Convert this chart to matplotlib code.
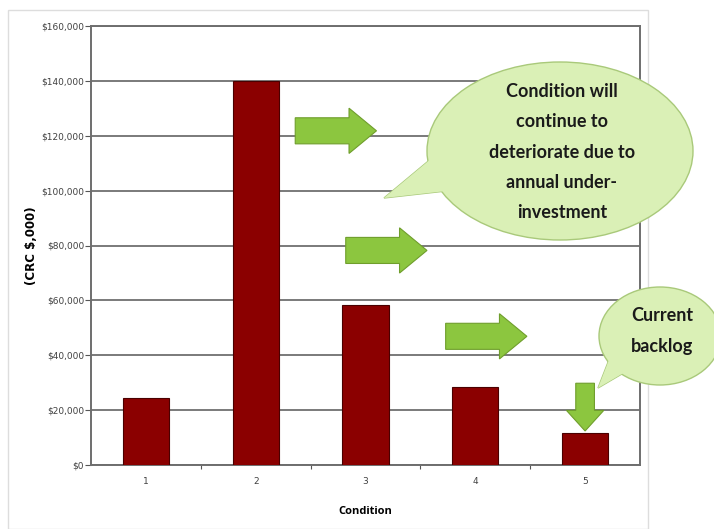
import matplotlib.pyplot as plt
import numpy as np
from matplotlib.patches import Ellipse, Polygon, FancyArrow, Rectangle
from matplotlib.ticker import FuncFormatter

conditions = ["1", "2", "3", "4", "5"]
crc_values = [24500, 140000, 58200, 28400, 11600]
y_ticks = [0, 20000, 40000, 60000, 80000, 100000, 120000, 140000, 160000]
bubble_big = "Condition will\ncontinue to\ndeteriorate due to\nannual under-\ninvestment"
bubble_small = "Current\nbacklog"

W, H = 714, 529
fig = plt.figure(figsize=(W / 100, H / 100), dpi=100)
ax = fig.add_axes([91 / W, 1 - 465 / H, (640 - 91) / W, (465 - 26) / H])

x = np.arange(1, len(conditions) + 1)
ax.bar(x, crc_values, width=0.42, color="#8b0000", edgecolor="#4a0000",
       linewidth=0.8, zorder=3)

ax.set_xlim(0.5, 5.5)
ax.set_ylim(0, 160000)
ax.set_yticks(y_ticks)
ax.yaxis.set_major_formatter(FuncFormatter(lambda v, p: "${:,.0f}".format(v)))
ax.yaxis.grid(True, color="#7a7a7a", linewidth=1.4, zorder=1)
ax.set_axisbelow(True)

# category boundaries carry the tick marks, centres carry the labels
ax.set_xticks(np.arange(1.5, 5.5, 1.0))
ax.set_xticklabels([])
ax.set_xticks(x, minor=True)
ax.set_xticklabels(conditions, minor=True)
ax.tick_params(axis="x", which="major", length=3, color="#555555", direction="out")
ax.tick_params(axis="x", which="minor", length=0, pad=9, labelsize=6.5,
               labelcolor="#404040")
ax.tick_params(axis="y", length=4, color="#555555", labelsize=6.5,
               labelcolor="#404040", pad=1)

for s in ax.spines.values():
    s.set_color("#6e6e6e")
    s.set_linewidth(1.4)

ax.set_ylabel("(CRC $,000)", fontsize=8.5, fontweight="bold", labelpad=2)
ax.set_xlabel("Condition", fontsize=8, fontweight="bold", labelpad=14,
              fontfamily="Open Sans")

# green block arrows
green = "#8cc63f"
edge = "#6f9e2c"
for x0, x1, yc in [(2.36, 3.10, 121800), (2.82, 3.56, 78200), (3.73, 4.47, 46900)]:
    ax.add_patch(FancyArrow(x0, yc, x1 - x0, 0, width=9500, head_width=16500,
                            head_length=0.25, length_includes_head=True,
                            facecolor=green, edgecolor=edge, linewidth=0.8,
                            zorder=5))
ax.add_patch(FancyArrow(5.0, 29800, 0, -17400, width=0.17, head_width=0.34,
                        head_length=7500, length_includes_head=True,
                        facecolor=green, edgecolor=edge, linewidth=0.8, zorder=5))


def fx(px):
    return px / W


def fy(py):
    return 1 - py / H


def bubble(cx, cy, w, h, tail, text, size, tx, ty):
    fill = "#daf0b6"
    line = "#a9c97a"
    pts = [(fx(a), fy(b)) for a, b in tail]
    fig.patches.append(Polygon(pts, closed=True, facecolor=fill, edgecolor=line,
                               linewidth=1, transform=fig.transFigure, zorder=6))
    fig.patches.append(Ellipse((fx(cx), fy(cy)), w / W, h / H, facecolor=fill,
                               edgecolor=line, linewidth=1,
                               transform=fig.transFigure, zorder=7))
    fig.patches.append(Polygon(pts, closed=True, facecolor=fill, edgecolor="none",
                               transform=fig.transFigure, zorder=8))
    fig.text(fx(tx), fy(ty), text, ha="center", va="center", fontsize=size,
             fontweight="bold", fontfamily="Lato", color="#1a1a1a",
             linespacing=1.93, zorder=9)


bubble(560, 151, 266, 178, [(384, 198), (432, 158), (455, 190)], bubble_big,
       13, 562, 152)
bubble(660, 336, 122, 98, [(598, 388), (612, 352), (632, 368)], bubble_small,
       13, 662, 331)

# outer slide frame
fig.patches.append(Rectangle((fx(8), 0), fx(648) - fx(8), fy(10), fill=False,
                             edgecolor="#dddddd", linewidth=1,
                             transform=fig.transFigure, zorder=0))

fig.savefig("out.png", dpi=100)
